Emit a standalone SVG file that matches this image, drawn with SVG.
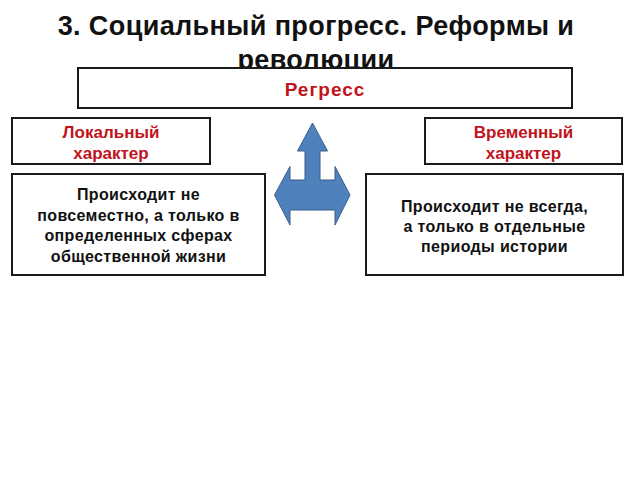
<svg xmlns="http://www.w3.org/2000/svg" width="640" height="480" viewBox="0 0 640 480">
<style>
.box{fill:#fff;stroke:#1a1a1a;stroke-width:2}
.t{font-family:"Liberation Sans",Arial,sans-serif;font-weight:bold;text-anchor:middle}
.title{font-size:27px;fill:#111;letter-spacing:0.4px}
.red{fill:#C0141C}
.blk{fill:#111;font-size:16px;letter-spacing:0.35px}
</style>
<rect width="640" height="480" fill="#fff"/>
<g id="title">
<text class="t title" x="316" y="35">3. Социальный прогресс. Реформы и</text>
<text class="t title" x="316" y="69">революции</text>
</g>
<g id="regress">
<rect class="box" x="78" y="68" width="494" height="40"/>
<text class="t red" x="325" y="96" font-size="19" letter-spacing="1">Регресс</text>
</g>
<g id="local">
<rect class="box" x="12" y="118" width="198" height="46"/>
<text class="t red" x="111" y="138" font-size="17">Локальный</text>
<text class="t red" x="111" y="159" font-size="17">характер</text>
</g>
<g id="temporal">
<rect class="box" x="425" y="118" width="197" height="46"/>
<text class="t red" x="523.5" y="138" font-size="17">Временный</text>
<text class="t red" x="523.5" y="159" font-size="17">характер</text>
</g>
<g id="local-desc">
<rect class="box" x="12" y="174" width="253" height="101"/>
<text class="t blk" x="138.5" y="200">Происходит не</text>
<text class="t blk" x="138.5" y="220.5">повсеместно, а только в</text>
<text class="t blk" x="138.5" y="241">определенных сферах</text>
<text class="t blk" x="138.5" y="261.5">общественной жизни</text>
</g>
<g id="temporal-desc">
<rect class="box" x="366" y="174" width="257" height="101"/>
<text class="t blk" x="494.5" y="212">Происходит не всегда,</text>
<text class="t blk" x="494.5" y="232">а только в отдельные</text>
<text class="t blk" x="494.5" y="252">периоды истории</text>
</g>
<g id="connectors">
<polygon points="312.5,123 327.5,151 320,151 320,180 335,180 335,166.5 350,195 335,225 335,210 290,210 290,225 274.5,195 290,166.5 290,180 305,180 305,151 297.5,151" fill="#4F81BD" stroke="#385D8A" stroke-width="1"/>
</g>
</svg>
